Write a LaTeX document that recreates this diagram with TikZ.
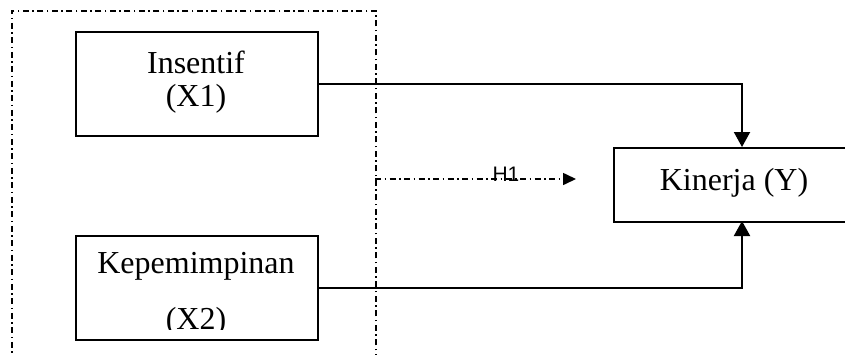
\documentclass[tikz,border=0pt]{standalone}
\usepackage{fontspec}
\setmainfont{Liberation Serif}
\newfontfamily\labelsans{Liberation Sans}
\usetikzlibrary{arrows.meta}
\begin{document}
\begin{tikzpicture}[x=1pt, y=-1pt,
  varbox/.style={draw, line width=2pt, inner sep=0pt, anchor=north west},
  bodytext/.style={font=\fontsize{32}{38}\selectfont, inner sep=0pt},
  dashdotline/.style={line width=1.6pt, dash pattern=on 6pt off 3.5pt on 1.5pt off 3.5pt},
  link/.style={line width=2pt, -{Triangle[length=15pt, width=16pt]}},
  hypo/.style={dashdotline, -{Triangle[length=13pt, width=12pt]}}]
  \useasboundingbox (0,0) rectangle (845,354);
  \clip (0,0) rectangle (845,354);
  \fill[white] (0,0) rectangle (845,354);

  % group frame around the independent variables
  \node[dashdotline, draw, anchor=north west, inner sep=0pt,
        minimum width=364pt, minimum height=420pt] (frame) at (11,10) {};

  % independent variables
  \node[varbox, minimum width=242pt, minimum height=104pt] (x1) at (75,31) {};
  \node[bodytext] (x1a) at (196,62) {Insentif};
  \node[bodytext] (x1b) at (196,99) {(X1)};

  \node[varbox, minimum width=242pt, minimum height=104pt] (x2) at (75,235) {};
  \node[bodytext] (x2a) at (196,266) {Kepemimpinan};
  \begin{scope}
    \clip (75,235) rectangle (317,329);
    \node[bodytext] (x2b) at (196,322) {(X2)};
  \end{scope}

  % dependent variable
  \node[varbox, minimum width=242pt, minimum height=74pt] (y) at (613,147) {};
  \node[bodytext] (ya) at (734,183) {Kinerja (Y)};

  % connectors
  \coordinate (ytop) at (742,147);
  \coordinate (ybot) at (742,221);
  \draw[link] (x1.east) -| (ytop);
  \draw[link] (x2.east) -| (ybot);

  % hypothesis arrow
  \coordinate (hstart) at (375,179);
  \coordinate (hend) at (576,179);
  \draw[hypo] (hstart) -- (hend);
  \node[font=\labelsans\fontsize{21}{24}\selectfont, inner sep=0pt] (h1) at (506,174) {H1};
\end{tikzpicture}
\end{document}
